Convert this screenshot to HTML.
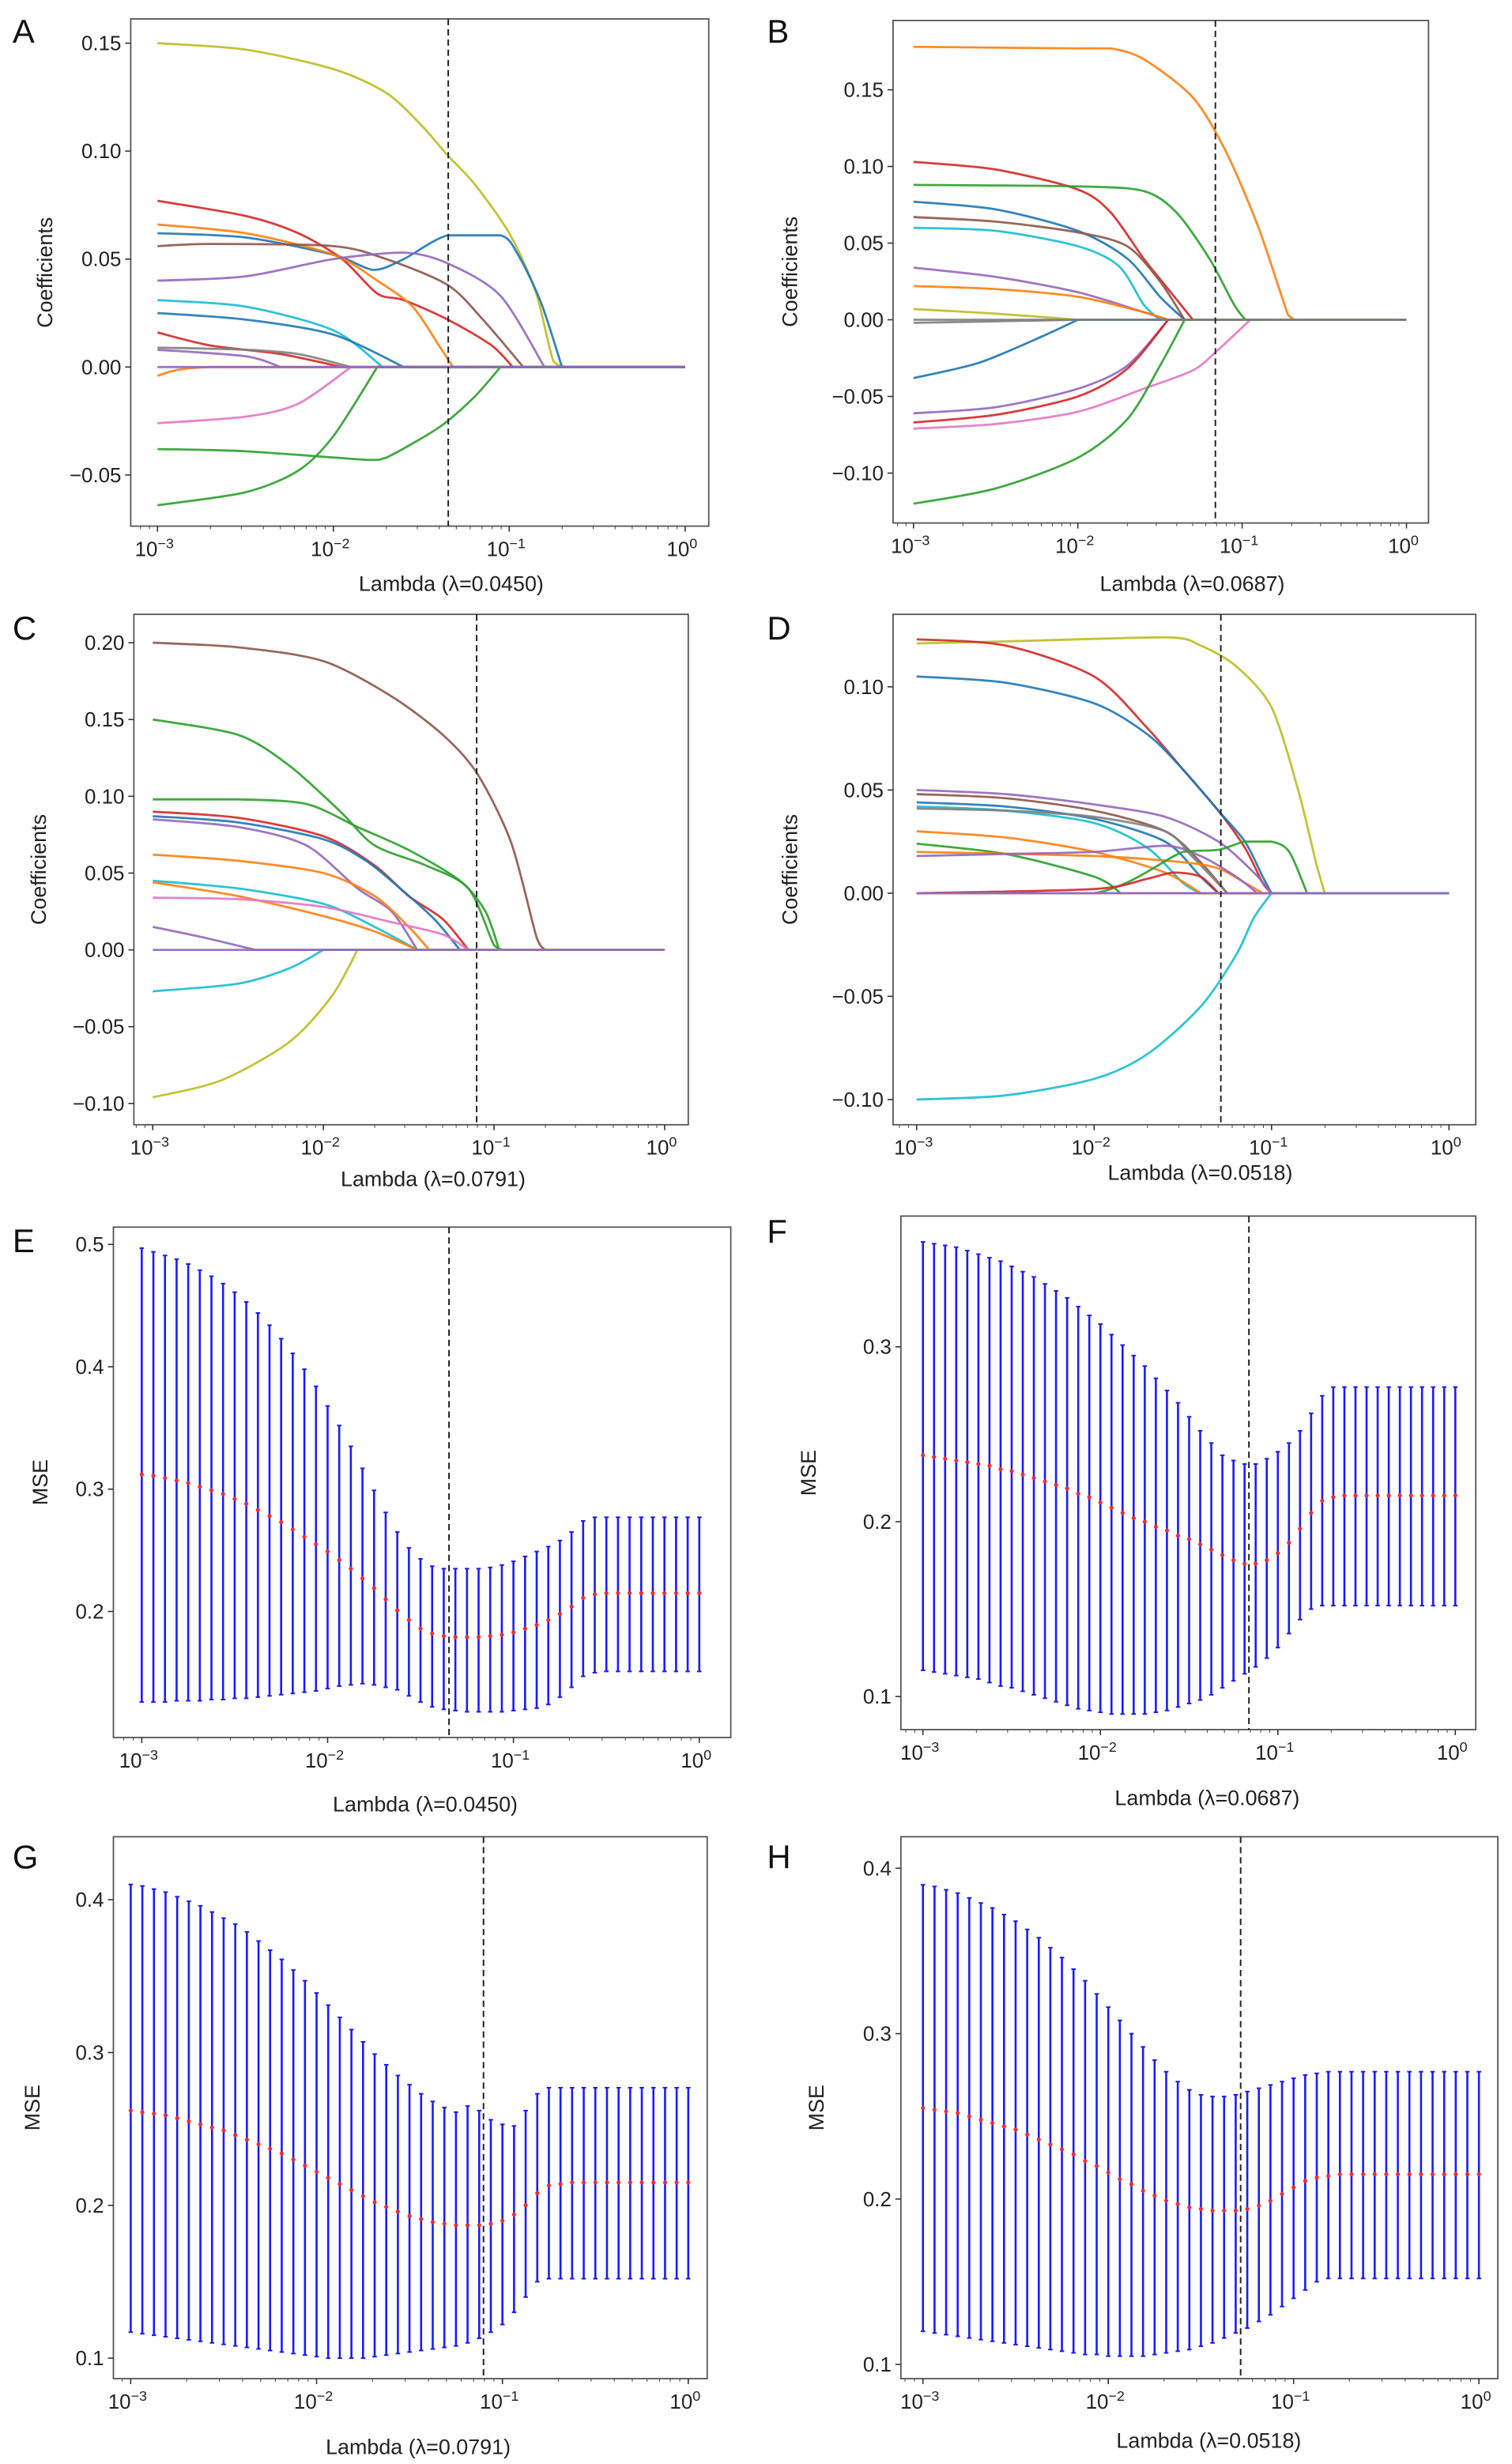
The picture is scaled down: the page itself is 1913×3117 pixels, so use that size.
<!DOCTYPE html>
<html><head><meta charset="utf-8">
<style>
html,body{margin:0;padding:0;background:#fff;}
svg{display:block;font-family:"Liberation Sans",sans-serif;}
</style></head>
<body>
<svg id="fig" width="1913" height="3117" viewBox="0 0 960 1564.2" preserveAspectRatio="none" xmlns="http://www.w3.org/2000/svg"></svg>
<script>
// ---------- DATA ----------
const xTickExps = [-3, -2, -1, 0];
const colors = ['#1f77b4','#ff7f0e','#2ca02c','#d62728','#9467bd','#8c564b','#e377c2','#7f7f7f','#bcbd22','#17becf'];

// coefficient paths: [log10(lambda), coefficient]
const pathsA = [
 {c:8, p:[[-3,0.15],[-2.5,0.147],[-2,0.138],[-1.7,0.127],[-1.5,0.112],[-1.35,0.098],[-1.2,0.085],[-1,0.062],[-0.85,0.035],[-0.75,0.003],[-0.68,0]]},
 {c:0, p:[[-3,0.062],[-2.5,0.06],[-2,0.052],[-1.77,0.045],[-1.6,0.05],[-1.35,0.061],[-1.05,0.061],[-0.95,0.052],[-0.82,0.03],[-0.7,0]]},
 {c:3, p:[[-3,0.077],[-2.5,0.07],[-2.2,0.062],[-1.95,0.05],[-1.75,0.034],[-1.6,0.031],[-1.35,0.022],[-1.1,0.01],[-0.98,0]]},
 {c:1, p:[[-3,0.066],[-2.5,0.062],[-2,0.052],[-1.75,0.04],[-1.55,0.028],[-1.4,0.01],[-1.32,0]]},
 {c:5, p:[[-3,0.056],[-2.7,0.057],[-2,0.056],[-1.7,0.05],[-1.35,0.038],[-1.15,0.022],[-0.92,0]]},
 {c:4, p:[[-3,0.04],[-2.5,0.042],[-2,0.05],[-1.6,0.053],[-1.35,0.048],[-1.05,0.033],[-0.8,0]]},
 {c:9, p:[[-3,0.031],[-2.5,0.028],[-2,0.017],[-1.72,0]]},
 {c:0, p:[[-3,0.025],[-2.5,0.022],[-2,0.015],[-1.6,0]]},
 {c:3, p:[[-3,0.016],[-2.7,0.01],[-2.3,0.006],[-1.95,0]]},
 {c:7, p:[[-3,0.009],[-2.5,0.008],[-2.2,0.006],[-1.9,0]]},
 {c:4, p:[[-3,0.008],[-2.5,0.005],[-2.3,0]]},
 {c:1, p:[[-3,-0.004],[-2.7,0],[-1.3,0]]},
 {c:6, p:[[-3,-0.026],[-2.5,-0.023],[-2.2,-0.017],[-1.9,0]]},
 {c:2, p:[[-3,-0.038],[-2.5,-0.039],[-1.8,-0.043],[-1.7,-0.042],[-1.4,-0.028],[-1.2,-0.014],[-1.05,0]]},
 {c:2, p:[[-3,-0.064],[-2.5,-0.058],[-2.2,-0.048],[-2,-0.032],[-1.75,0]]},
 {c:4, p:[[-3,0],[0,0]]}
];
const pathsB = [
 {c:1, p:[[-3,0.178],[-2,0.177],[-1.8,0.177],[-1.6,0.17],[-1.3,0.145],[-1.1,0.11],[-0.9,0.06],[-0.72,0.003],[-0.68,0]]},
 {c:3, p:[[-3,0.103],[-2.5,0.098],[-2,0.085],[-1.8,0.07],[-1.6,0.04],[-1.45,0.02],[-1.3,0]]},
 {c:2, p:[[-3,0.088],[-2,0.087],[-1.6,0.084],[-1.4,0.07],[-1.2,0.04],[-1.05,0.01],[-0.98,0]]},
 {c:0, p:[[-3,0.077],[-2.5,0.072],[-2,0.058],[-1.7,0.04],[-1.5,0.015],[-1.35,0]]},
 {c:5, p:[[-3,0.067],[-2.5,0.064],[-2,0.057],[-1.7,0.048],[-1.5,0.025],[-1.35,0]]},
 {c:9, p:[[-3,0.06],[-2.5,0.058],[-2,0.048],[-1.75,0.035],[-1.6,0.01],[-1.5,0]]},
 {c:4, p:[[-3,0.034],[-2.5,0.028],[-2,0.018],[-1.6,0.005],[-1.45,0]]},
 {c:1, p:[[-3,0.022],[-2.5,0.02],[-2,0.015],[-1.6,0.005],[-1.45,0]]},
 {c:8, p:[[-3,0.007],[-2.5,0.004],[-2,0]]},
 {c:7, p:[[-3,-0.002],[-2.5,-0.001],[-2,0]]},
 {c:0, p:[[-3,-0.038],[-2.6,-0.028],[-2.2,-0.01],[-2,0]]},
 {c:4, p:[[-3,-0.061],[-2.5,-0.057],[-2,-0.045],[-1.7,-0.03],[-1.45,0]]},
 {c:3, p:[[-3,-0.067],[-2.5,-0.062],[-2,-0.05],[-1.7,-0.032],[-1.45,0]]},
 {c:6, p:[[-3,-0.071],[-2.5,-0.068],[-2,-0.06],[-1.6,-0.045],[-1.3,-0.033],[-1.15,-0.02],[-1,-0.005],[-0.95,0]]},
 {c:2, p:[[-3,-0.12],[-2.5,-0.11],[-2,-0.09],[-1.7,-0.065],[-1.5,-0.03],[-1.35,0]]},
 {c:7, p:[[-3,0],[0,0]]}
];
const pathsC = [
 {c:5, p:[[-3,0.2],[-2.5,0.197],[-2,0.188],[-1.6,0.165],[-1.3,0.14],[-1.1,0.115],[-0.9,0.07],[-0.75,0.008],[-0.7,0]]},
 {c:2, p:[[-3,0.15],[-2.5,0.14],[-2.2,0.12],[-1.9,0.09],[-1.7,0.068],[-1.4,0.055],[-1.15,0.04],[-1.0,0.003],[-0.95,0]]},
 {c:2, p:[[-3,0.098],[-2.5,0.098],[-2.1,0.095],[-1.8,0.08],[-1.5,0.065],[-1.2,0.045],[-1.05,0.025],[-0.97,0]]},
 {c:3, p:[[-3,0.09],[-2.5,0.086],[-2,0.074],[-1.7,0.055],[-1.5,0.035],[-1.3,0.02],[-1.15,0]]},
 {c:0, p:[[-3,0.087],[-2.5,0.083],[-2,0.072],[-1.75,0.058],[-1.55,0.04],[-1.35,0.02],[-1.2,0]]},
 {c:4, p:[[-3,0.085],[-2.5,0.08],[-2.1,0.068],[-1.8,0.04],[-1.6,0.025],[-1.45,0]]},
 {c:1, p:[[-3,0.062],[-2.5,0.058],[-2,0.05],[-1.7,0.035],[-1.5,0.015],[-1.38,0]]},
 {c:9, p:[[-3,0.045],[-2.5,0.04],[-2,0.03],[-1.7,0.015],[-1.45,0]]},
 {c:1, p:[[-3,0.044],[-2.5,0.035],[-2,0.022],[-1.7,0.012],[-1.45,0]]},
 {c:6, p:[[-3,0.034],[-2.5,0.033],[-2,0.028],[-1.6,0.018],[-1.3,0.01],[-1.15,0]]},
 {c:4, p:[[-3,0.015],[-2.7,0.008],[-2.4,0]]},
 {c:9, p:[[-3,-0.027],[-2.5,-0.022],[-2.2,-0.012],[-2.0,0]]},
 {c:8, p:[[-3,-0.096],[-2.6,-0.085],[-2.2,-0.06],[-1.95,-0.03],[-1.8,0]]},
 {c:4, p:[[-3,0],[0,0]]}
];
const pathsD = [
 {c:8, p:[[-3,0.121],[-2.5,0.122],[-1.6,0.124],[-1.4,0.12],[-1.2,0.11],[-1.0,0.09],[-0.85,0.05],[-0.75,0.015],[-0.7,0]]},
 {c:3, p:[[-3,0.123],[-2.5,0.12],[-2,0.105],[-1.7,0.08],[-1.5,0.06],[-1.3,0.04],[-1.15,0.022],[-1.05,0.005],[-1.0,0]]},
 {c:0, p:[[-3,0.105],[-2.5,0.102],[-2,0.092],[-1.7,0.077],[-1.5,0.06],[-1.3,0.04],[-1.15,0.025],[-1.05,0.008],[-1.0,0]]},
 {c:4, p:[[-3,0.05],[-2.5,0.048],[-2,0.043],[-1.6,0.037],[-1.3,0.025],[-1.1,0.01],[-1.0,0]]},
 {c:5, p:[[-3,0.048],[-2.5,0.046],[-2,0.04],[-1.6,0.03],[-1.4,0.015],[-1.25,0]]},
 {c:0, p:[[-3,0.044],[-2.5,0.042],[-2,0.036],[-1.6,0.025],[-1.4,0.008],[-1.3,0]]},
 {c:9, p:[[-3,0.042],[-2.5,0.04],[-2,0.034],[-1.7,0.022],[-1.5,0.005],[-1.4,0]]},
 {c:7, p:[[-3,0.041],[-2.5,0.04],[-2,0.037],[-1.6,0.03],[-1.45,0.018],[-1.25,0]]},
 {c:1, p:[[-3,0.03],[-2.5,0.027],[-2,0.02],[-1.6,0.01],[-1.4,0]]},
 {c:2, p:[[-3,0.024],[-2.5,0.019],[-2,0.008],[-1.85,0]]},
 {c:1, p:[[-3,0.02],[-2,0.018],[-1.5,0.015],[-1.3,0.012],[-1.15,0.005],[-1.05,0]]},
 {c:4, p:[[-3,0.018],[-2.5,0.019],[-2,0.02],[-1.6,0.023],[-1.4,0.018],[-1.2,0.008],[-1.08,0]]},
 {c:2, p:[[-3,0],[-2,0],[-1.5,0.02],[-1.3,0.021],[-1.15,0.025],[-1.0,0.025],[-0.9,0.02],[-0.8,0]]},
 {c:3, p:[[-3,0],[-2.0,0.002],[-1.7,0.007],[-1.55,0.01],[-1.4,0.008],[-1.3,0]]},
 {c:6, p:[[-3,0],[-1,0]]},
 {c:9, p:[[-3,-0.1],[-2.5,-0.098],[-2,-0.09],[-1.7,-0.078],[-1.4,-0.055],[-1.2,-0.03],[-1.1,-0.012],[-1.0,0]]},
 {c:4, p:[[-3,0],[0,0]]}
];

// cross-validation curves (49 lambdas, log10 from -3 to 0)
const meanE = [0.312,0.311,0.309,0.307,0.305,0.302,0.299,0.296,0.292,0.288,0.283,0.278,0.273,0.267,0.261,0.255,0.249,0.242,0.235,0.227,0.219,0.210,0.201,0.193,0.186,0.182,0.180,0.179,0.179,0.179,0.180,0.181,0.183,0.186,0.189,0.193,0.198,0.204,0.211,0.214,0.215,0.215,0.215,0.215,0.215,0.215,0.215,0.215,0.215];
const upperE = [0.497,0.494,0.491,0.488,0.484,0.479,0.474,0.468,0.461,0.453,0.444,0.434,0.423,0.411,0.398,0.384,0.368,0.352,0.335,0.317,0.299,0.281,0.265,0.252,0.243,0.237,0.235,0.235,0.235,0.235,0.236,0.238,0.241,0.245,0.249,0.253,0.258,0.265,0.274,0.277,0.277,0.277,0.277,0.277,0.277,0.277,0.277,0.277,0.277];
const lowerE = [0.126,0.126,0.126,0.127,0.127,0.127,0.128,0.128,0.129,0.129,0.130,0.131,0.132,0.133,0.134,0.135,0.137,0.139,0.140,0.141,0.140,0.138,0.136,0.131,0.126,0.122,0.120,0.119,0.118,0.118,0.118,0.118,0.119,0.120,0.121,0.124,0.130,0.138,0.147,0.150,0.151,0.151,0.151,0.151,0.151,0.151,0.151,0.151,0.151];
const meanF = [0.238,0.237,0.236,0.235,0.234,0.233,0.232,0.230,0.229,0.227,0.225,0.223,0.221,0.219,0.216,0.214,0.211,0.208,0.205,0.202,0.200,0.197,0.195,0.192,0.190,0.187,0.184,0.181,0.178,0.176,0.176,0.178,0.182,0.188,0.196,0.205,0.212,0.214,0.215,0.215,0.215,0.215,0.215,0.215,0.215,0.215,0.215,0.215,0.215];
const upperF = [0.360,0.359,0.358,0.357,0.355,0.353,0.351,0.349,0.346,0.343,0.340,0.336,0.332,0.328,0.323,0.318,0.313,0.307,0.301,0.295,0.289,0.282,0.275,0.268,0.260,0.252,0.245,0.238,0.235,0.233,0.233,0.236,0.240,0.245,0.252,0.262,0.272,0.277,0.277,0.277,0.277,0.277,0.277,0.277,0.277,0.277,0.277,0.277,0.277];
const lowerF = [0.115,0.114,0.113,0.112,0.111,0.110,0.108,0.106,0.105,0.103,0.101,0.099,0.097,0.095,0.093,0.092,0.091,0.090,0.090,0.090,0.090,0.091,0.092,0.094,0.096,0.098,0.101,0.105,0.109,0.113,0.117,0.122,0.128,0.136,0.144,0.150,0.152,0.152,0.152,0.152,0.152,0.152,0.152,0.152,0.152,0.152,0.152,0.152,0.152];
const meanG = [0.262,0.261,0.260,0.259,0.257,0.255,0.253,0.251,0.249,0.246,0.243,0.240,0.237,0.234,0.230,0.226,0.222,0.218,0.214,0.210,0.206,0.202,0.199,0.196,0.193,0.191,0.189,0.188,0.187,0.187,0.187,0.188,0.190,0.194,0.200,0.208,0.213,0.214,0.215,0.215,0.215,0.215,0.215,0.215,0.215,0.215,0.215,0.215,0.215];
const upperG = [0.410,0.409,0.407,0.405,0.402,0.399,0.396,0.392,0.388,0.384,0.379,0.373,0.367,0.361,0.354,0.347,0.339,0.331,0.323,0.315,0.307,0.299,0.292,0.285,0.279,0.273,0.268,0.264,0.261,0.265,0.262,0.256,0.253,0.252,0.262,0.273,0.277,0.277,0.277,0.277,0.277,0.277,0.277,0.277,0.277,0.277,0.277,0.277,0.277];
const lowerG = [0.117,0.116,0.115,0.114,0.113,0.112,0.111,0.110,0.109,0.108,0.107,0.106,0.105,0.104,0.103,0.102,0.101,0.100,0.100,0.100,0.100,0.101,0.102,0.103,0.104,0.105,0.106,0.107,0.108,0.110,0.113,0.117,0.122,0.130,0.140,0.150,0.152,0.152,0.152,0.152,0.152,0.152,0.152,0.152,0.152,0.152,0.152,0.152,0.152];
const meanH = [0.255,0.254,0.253,0.252,0.250,0.248,0.246,0.244,0.242,0.239,0.236,0.233,0.230,0.227,0.223,0.220,0.216,0.212,0.209,0.205,0.202,0.199,0.197,0.195,0.194,0.193,0.193,0.193,0.194,0.196,0.199,0.203,0.207,0.211,0.213,0.214,0.215,0.215,0.215,0.215,0.215,0.215,0.215,0.215,0.215,0.215,0.215,0.215,0.215];
const upperH = [0.390,0.389,0.387,0.385,0.382,0.379,0.376,0.372,0.368,0.363,0.358,0.352,0.346,0.339,0.332,0.324,0.316,0.308,0.300,0.292,0.284,0.277,0.271,0.266,0.263,0.262,0.262,0.263,0.265,0.267,0.269,0.271,0.273,0.275,0.276,0.277,0.277,0.277,0.277,0.277,0.277,0.277,0.277,0.277,0.277,0.277,0.277,0.277,0.277];
const lowerH = [0.120,0.119,0.118,0.117,0.116,0.115,0.114,0.113,0.112,0.111,0.110,0.109,0.108,0.107,0.106,0.106,0.105,0.105,0.105,0.105,0.106,0.107,0.108,0.109,0.111,0.113,0.116,0.119,0.122,0.126,0.130,0.135,0.140,0.145,0.150,0.152,0.152,0.152,0.152,0.152,0.152,0.152,0.152,0.152,0.152,0.152,0.152,0.152,0.152];

const lambdaA = 0.0450, lambdaB = 0.0687, lambdaC = 0.0791, lambdaD = 0.0518;
const yTicksA = [-0.05,0,0.05,0.10,0.15];
const yTicksB = [-0.10,-0.05,0,0.05,0.10,0.15];
const yTicksC = [-0.10,-0.05,0,0.05,0.10,0.15,0.20];
const yTicksD = [-0.10,-0.05,0,0.05,0.10];
const yTicksCV = [0.1,0.2,0.3,0.4,0.5];

// ---------- DRAWING ----------
const NS = 'http://www.w3.org/2000/svg';
const svg = document.getElementById('fig');
function mk(tag, attrs, parent){
  const e = document.createElementNS(NS, tag);
  for (const k in attrs) e.setAttribute(k, attrs[k]);
  (parent||svg).appendChild(e);
  return e;
}
function clamp(v, a, b){ const lo = Math.min(a,b), hi = Math.max(a,b); return Math.min(hi, Math.max(lo, v)); }
function smoothPath(P){
  let d = 'M' + P[0][0].toFixed(2) + ' ' + P[0][1].toFixed(2);
  for (let i = 0; i < P.length - 1; i++) {
    const p0 = P[i-1] || P[i], p1 = P[i], p2 = P[i+1], p3 = P[i+2] || P[i+1];
    const t = 0.14;
    const c1x = clamp(p1[0] + (p2[0]-p0[0])*t, p1[0], p2[0]);
    const c1y = clamp(p1[1] + (p2[1]-p0[1])*t, p1[1], p2[1]);
    const c2x = clamp(p2[0] - (p3[0]-p1[0])*t, p1[0], p2[0]);
    const c2y = clamp(p2[1] - (p3[1]-p1[1])*t, p1[1], p2[1]);
    d += ' C' + c1x.toFixed(2)+' '+c1y.toFixed(2)+' '+c2x.toFixed(2)+' '+c2y.toFixed(2)+' '+p2[0].toFixed(2)+' '+p2[1].toFixed(2);
  }
  return d;
}

function panel(cfg){
  const g = mk('g', {});
  
  
  const X = v => cfg.x0 + (v + 3) / 3 * (cfg.x1 - cfg.x0);
  const Y = v => cfg.ya + (v - cfg.va) / (cfg.vb - cfg.va) * (cfg.yb - cfg.ya);
  const f = cfg.fmt;
  const fr = mk('rect', {x:cfg.bl, y:cfg.bt, width:cfg.br-cfg.bl, height:cfg.bb-cfg.bt, fill:'none', stroke:'#555', 'stroke-width':0.9}, g);
  
  
  cfg.yTicks.forEach(v => {
    const y = Y(v);
    mk('line', {x1:cfg.bl-3.5, x2:cfg.bl, y1:y, y2:y, stroke:'#333', 'stroke-width':0.8}, g);
    const t = mk('text', {x:cfg.bl-6, y:y+4.5, 'font-size':13, 'text-anchor':'end', fill:'#222'}, g);
    
    
    t.textContent = (v < 0 ? '\u2212' : '') + Math.abs(v).toFixed(f);
  });
  xTickExps.forEach(e => {
    const x = X(e);
    mk('line', {x1:x, x2:x, y1:cfg.bb, y2:cfg.bb+3.5, stroke:'#333', 'stroke-width':0.8}, g);
    const t = mk('text', {x:x-2, y:cfg.bb+19, 'font-size':13, 'text-anchor':'middle', fill:'#222'}, g);
    
    
    t.appendChild(document.createTextNode('10'));
    const s = mk('tspan', {dy:-5, 'font-size':9}, t);
    s.textContent = e === 0 ? '0' : '\u2212' + Math.abs(e);
    if (e < 0) for (let m = 2; m <= 9; m++) {
      const xm = X(e + Math.log10(m));
      mk('line', {x1:xm, x2:xm, y1:cfg.bb, y2:cfg.bb+2, stroke:'#444', 'stroke-width':0.5}, g);
    }
  });
  [2,3,4,5,6,7,8,9].forEach(m => { const xm = X(-4+Math.log10(m)); if (xm > cfg.bl) mk('line',{x1:xm,x2:xm,y1:cfg.bb,y2:cfg.bb+2,stroke:'#444','stroke-width':0.5},g); });
  [2,3].forEach(m => { const xm = X(Math.log10(m)); if (xm < cfg.br) mk('line',{x1:xm,x2:xm,y1:cfg.bb,y2:cfg.bb+2,stroke:'#444','stroke-width':0.5},g); });
  const xl = mk('text', {x:(cfg.bl+cfg.br)/2+cfg.xlDx, y:cfg.xlY, 'font-size':13.5, 'text-anchor':'middle', fill:'#222'}, g);
  
  
  xl.textContent = 'Lambda (\u03bb=' + cfg.lambda.toFixed(4) + ')';
  const yc = (cfg.bt+cfg.bb)/2;
  const yl = mk('text', {x:cfg.ylX, y:yc, 'font-size':13.5, 'text-anchor':'middle', fill:'#222', transform:'rotate(-90 '+cfg.ylX+' '+yc+')'}, g);
  
  
  yl.textContent = cfg.ylabel;
  const pl = mk('text', {x:cfg.lx, y:cfg.ly, 'font-size':21, fill:'#111'}, g);
  
  
  pl.textContent = cfg.letter;
  if (cfg.paths) {
    cfg.paths.forEach(s => {
      const P = s.p.map(q => [X(q[0]), Y(q[1])]);
      let d = smoothPath(P);
      const last = s.p[s.p.length-1];
      if (last[0] < 0) d += ' L' + X(0).toFixed(2) + ' ' + Y(last[1]).toFixed(2);
      const pe = mk('path', {d:d, fill:'none', stroke:colors[s.c], 'stroke-width':1.4, 'stroke-linejoin':'round', 'stroke-opacity':0.9}, g);
      
      
    });
  }
  if (cfg.mean) {
    const n = cfg.mean.length;
    for (let i = 0; i < n; i++) {
      const x = X(-3 + 3 * i / (n - 1));
      const yu = Y(cfg.upper[i]), yl2 = Y(cfg.lower[i]);
      const bar = mk('line', {x1:x, x2:x, y1:yu, y2:yl2, stroke:'#1a1aff', 'stroke-width':1.3}, g);
      
      
      mk('line', {x1:x-1.4, x2:x+1.4, y1:yu, y2:yu, stroke:'#1a1aff', 'stroke-width':1}, g);
      mk('line', {x1:x-1.4, x2:x+1.4, y1:yl2, y2:yl2, stroke:'#1a1aff', 'stroke-width':1}, g);
    }
    for (let i = 0; i < n; i++) {
      const x = X(-3 + 3 * i / (n - 1));
      const dot = mk('circle', {cx:x, cy:Y(cfg.mean[i]), r:1.3, fill:'#ff2a2a'}, g);
      
      
    }
  }
  const xv = X(Math.log10(cfg.lambda));
  const vl = mk('line', {x1:xv, x2:xv, y1:cfg.bt, y2:cfg.bb, stroke:'#222', 'stroke-width':1, 'stroke-dasharray':'4 2.5'}, g);
  
  
}

panel({letter:'A', bl:83, br:450, bt:12, bb:334, x0:100, x1:435, va:0, ya:233, vb:0.15, yb:27.4, yTicks:yTicksA, fmt:2, paths:pathsA, lambda:lambdaA, ylabel:'Coefficients', ylX:33, xlY:375, xlDx:20, lx:8, ly:27});
panel({letter:'B', bl:567, br:907, bt:13, bb:332, x0:580, x1:893, va:0, ya:203, vb:0.15, yb:57, yTicks:yTicksB, fmt:2, paths:pathsB, lambda:lambdaB, ylabel:'Coefficients', ylX:506, xlY:375, xlDx:20, lx:487, ly:27});
panel({letter:'C', bl:85, br:437, bt:390, bb:714, x0:97, x1:422, va:0, ya:603, vb:0.20, yb:408, yTicks:yTicksC, fmt:2, paths:pathsC, lambda:lambdaC, ylabel:'Coefficients', ylX:29, xlY:753, xlDx:14, lx:8, ly:406});
panel({letter:'D', bl:567, br:937, bt:390, bb:714, x0:582, x1:920, va:0, ya:567, vb:0.10, yb:436, yTicks:yTicksD, fmt:2, paths:pathsD, lambda:lambdaD, ylabel:'Coefficients', ylX:506, xlY:749, xlDx:10, lx:487, ly:406});
panel({letter:'E', bl:72, br:464, bt:779, bb:1103, x0:90, x1:444, va:0.2, ya:1023, vb:0.5, yb:790, yTicks:yTicksCV.filter(v=>v>=0.2), fmt:1, mean:meanE, upper:upperE, lower:lowerE, lambda:lambdaA, ylabel:'MSE', ylX:30, xlY:1150, xlDx:2, lx:8, ly:795});
panel({letter:'F', bl:572, br:937, bt:772, bb:1098, x0:586, x1:924, va:0.1, ya:1077, vb:0.3, yb:855, yTicks:yTicksCV.filter(v=>v<=0.3), fmt:1, mean:meanF, upper:upperF, lower:lowerF, lambda:lambdaB, ylabel:'MSE', ylX:518, xlY:1146, xlDx:12, lx:487, ly:789});
panel({letter:'G', bl:72, br:449, bt:1166, bb:1510, x0:83, x1:437, va:0.1, ya:1497, vb:0.4, yb:1206, yTicks:yTicksCV.filter(v=>v<=0.4), fmt:1, mean:meanG, upper:upperG, lower:lowerG, lambda:lambdaC, ylabel:'MSE', ylX:25, xlY:1558, xlDx:5, lx:8, ly:1186});
panel({letter:'H', bl:572, br:951, bt:1166, bb:1510, x0:586, x1:939, va:0.1, ya:1501, vb:0.4, yb:1186, yTicks:yTicksCV.filter(v=>v<=0.4), fmt:1, mean:meanH, upper:upperH, lower:lowerH, lambda:lambdaD, ylabel:'MSE', ylX:523, xlY:1554, xlDx:6, lx:487, ly:1186});
</script>
</body></html>
